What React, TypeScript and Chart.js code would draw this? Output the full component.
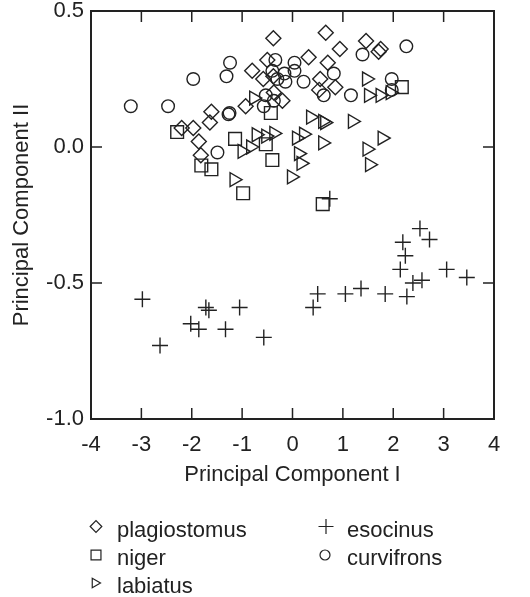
import React, { useEffect, useRef } from 'react';
import { Chart, registerables } from 'chart.js';
import { drawPoint } from 'chart.js/helpers';

Chart.register(...registerables);

// ---- data (Principal Component I, Principal Component II) ----
const plagiostomus: [number, number][] = [
  [-0.38, 0.40], [-0.80, 0.28], [-0.58, 0.25], [-0.50, 0.32], [-0.93, 0.15], [-0.20, 0.17],
  [-0.37, 0.20], [-0.38, 0.26], [-1.61, 0.13], [-1.64, 0.09], [-1.97, 0.07], [-2.20, 0.07],
  [-1.86, 0.02], [-1.82, -0.03], [0.66, 0.42], [0.32, 0.33], [0.94, 0.36], [1.46, 0.39],
  [1.71, 0.35], [1.75, 0.36], [0.70, 0.31], [0.55, 0.25], [0.85, 0.22], [0.53, 0.21],
];
const niger: [number, number][] = [
  [-2.29, 0.055], [-0.43, 0.125], [-1.14, 0.03], [-0.53, 0.01], [-0.40, -0.048],
  [-1.81, -0.068], [-1.61, -0.082], [-0.98, -0.17], [2.17, 0.22], [0.60, -0.21],
];
const labiatus: [number, number][] = [
  [-0.77, 0.18], [-0.72, 0.045], [-0.53, 0.04], [-0.37, 0.05], [-1.0, -0.016], [-0.83, 0.0],
  [-1.16, -0.12], [-0.02, -0.11], [1.47, 0.25], [1.51, 0.19], [1.74, 0.19], [1.94, 0.20],
  [0.36, 0.11], [0.60, 0.094], [0.64, 0.09], [1.19, 0.094], [0.08, 0.033], [0.22, 0.047],
  [0.60, 0.015], [0.12, -0.024], [0.17, -0.06], [1.78, 0.033], [1.48, -0.008], [1.53, -0.065],
];
const esocinus: [number, number][] = [
  [-2.98, -0.56], [-2.63, -0.73], [-2.02, -0.65], [-1.86, -0.67], [-1.72, -0.59], [-1.66, -0.60],
  [-1.33, -0.67], [-1.05, -0.59], [-0.57, -0.70], [0.41, -0.59], [0.50, -0.54], [1.05, -0.54],
  [1.36, -0.52], [1.84, -0.54], [2.27, -0.55], [2.39, -0.50], [2.57, -0.49], [3.06, -0.45],
  [3.46, -0.48], [2.14, -0.45], [2.24, -0.40], [2.19, -0.35], [2.53, -0.30], [2.72, -0.34],
  [0.74, -0.19],
];
const curvifrons: [number, number][] = [
  [-3.21, 0.15], [-2.47, 0.15], [-1.97, 0.25], [-1.31, 0.26], [-1.24, 0.31], [-1.27, 0.12],
  [-1.25, 0.125], [-1.49, -0.02], [-0.34, 0.32], [-0.40, 0.28], [-0.16, 0.27], [-0.14, 0.24],
  [-0.30, 0.25], [-0.53, 0.19], [-0.57, 0.15], [-0.37, 0.17], [0.04, 0.31], [0.04, 0.28],
  [0.22, 0.24], [0.82, 0.27], [0.62, 0.19], [1.16, 0.19], [1.39, 0.34], [2.26, 0.37],
  [1.97, 0.25], [1.97, 0.21],
];

const xTicks = [-4, -3, -2, -1, 0, 1, 2, 3, 4];
const yTicks = [-1.0, -0.5, 0.0, 0.5];
const xTitle = 'Principal Component I';
const yTitle = 'Principal Component II';

const INK = '#222';
const FONT = "'Liberation Sans', Arial, Helvetica, sans-serif";
const LW = 1.4;

const series = [
  { label: 'plagiostomus', data: plagiostomus, style: 'rectRot', r: 7.5, rot: 0, lr: 5.8, lx: 96, ly: 526.5, tx: 117, ty: 537 },
  { label: 'niger', data: niger, style: 'rect', r: 9, rot: 0, lr: 7, lx: 96, ly: 555, tx: 117, ty: 565 },
  { label: 'labiatus', data: labiatus, style: 'triangle', r: 8, rot: 90, lr: 5.5, lx: 95, ly: 583, tx: 117, ty: 593 },
  { label: 'esocinus', data: esocinus, style: 'cross', r: 8, rot: 0, lr: 7.5, lx: 326, ly: 526.5, tx: 347, ty: 537 },
  { label: 'curvifrons', data: curvifrons, style: 'circle', r: 6.3, rot: 0, lr: 5, lx: 325, ly: 555, tx: 347, ty: 565 },
];

const framePlugin = {
  id: 'frameTicks',
  afterDatasetsDraw(chart: any) {
    const { ctx, chartArea: a, scales } = chart;
    const x = scales.x;
    const y = scales.y;
    const tl = 11;
    ctx.save();
    ctx.strokeStyle = INK;
    ctx.lineWidth = 1.5;
    ctx.beginPath();
    x.ticks.forEach((t: any) => {
      if (t.value <= x.min || t.value >= x.max) return;
      const px = x.getPixelForValue(t.value);
      ctx.moveTo(px, a.bottom);
      ctx.lineTo(px, a.bottom - tl);
      ctx.moveTo(px, a.top);
      ctx.lineTo(px, a.top + tl);
    });
    y.ticks.forEach((t: any) => {
      if (t.value <= y.min || t.value >= y.max) return;
      const py = y.getPixelForValue(t.value);
      ctx.moveTo(a.left, py);
      ctx.lineTo(a.left + tl, py);
      ctx.moveTo(a.right, py);
      ctx.lineTo(a.right - tl, py);
    });
    ctx.stroke();
    ctx.lineWidth = 2;
    ctx.strokeRect(a.left, a.top, a.right - a.left, a.bottom - a.top);
    ctx.restore();
  },
};

const legendPlugin = {
  id: 'customLegend',
  afterDraw(chart: any) {
    const { ctx } = chart;
    ctx.save();
    ctx.strokeStyle = INK;
    ctx.fillStyle = 'rgba(0,0,0,0)';
    ctx.lineWidth = 1.2;
    series.forEach((s) => {
      drawPoint(ctx, { pointStyle: s.style as any, radius: s.lr, rotation: s.rot, borderWidth: 1.2 } as any, s.lx, s.ly);
    });
    ctx.fillStyle = INK;
    ctx.font = `22px ${FONT}`;
    ctx.textBaseline = 'alphabetic';
    ctx.textAlign = 'left';
    series.forEach((s) => {
      ctx.fillText(s.label, s.tx, s.ty);
    });
    ctx.restore();
  },
};

export default function App() {
  const ref = useRef<HTMLCanvasElement | null>(null);

  useEffect(() => {
    document.body.style.margin = '0';
    if (!ref.current) return;
    const chart = new Chart(ref.current, {
      type: 'scatter',
      data: {
        datasets: series.map((s) => ({
          label: s.label,
          data: s.data.map(([x, y]) => ({ x, y })),
          pointStyle: s.style as any,
          pointRadius: s.r,
          pointHoverRadius: s.r,
          pointRotation: s.rot,
          pointBorderWidth: LW,
          borderColor: INK,
          backgroundColor: 'rgba(0,0,0,0)',
          pointBackgroundColor: 'rgba(0,0,0,0)',
          pointBorderColor: INK,
        })),
      },
      options: {
        animation: false,
        responsive: false,
        events: [],
        layout: { padding: { top: 11, right: 36, bottom: 108, left: 0 } },
        plugins: {
          legend: { display: false },
          tooltip: { enabled: false },
        },
        scales: {
          x: {
            type: 'linear',
            position: 'bottom',
            min: xTicks[0],
            max: xTicks[xTicks.length - 1],
            afterBuildTicks: (s: any) => {
              s.ticks = xTicks.map((v) => ({ value: v }));
            },
            afterFit: (s: any) => {
              s.height = 70;
              s.paddingLeft = 0;
              s.paddingRight = 0;
              s.paddingTop = 0;
              s.paddingBottom = 0;
            },
            grid: { display: false, drawTicks: false },
            border: { display: false },
            ticks: {
              autoSkip: false,
              maxRotation: 0,
              padding: 13,
              color: INK,
              font: { family: FONT, size: 22 },
              callback: (v: any) => String(v),
            },
            title: {
              display: true,
              text: xTitle,
              color: INK,
              font: { family: FONT, size: 22 },
              padding: { top: 0, bottom: 1 },
            },
          },
          y: {
            type: 'linear',
            position: 'left',
            min: yTicks[0],
            max: yTicks[yTicks.length - 1],
            afterBuildTicks: (s: any) => {
              s.ticks = yTicks.map((v) => ({ value: v }));
            },
            afterFit: (s: any) => {
              s.width = 91;
              s.paddingLeft = 0;
              s.paddingRight = 0;
              s.paddingTop = 0;
              s.paddingBottom = 0;
            },
            grid: { display: false, drawTicks: false },
            border: { display: false },
            ticks: {
              autoSkip: false,
              padding: 7,
              color: INK,
              font: { family: FONT, size: 22 },
              callback: (v: any) => Number(v).toFixed(1),
            },
            title: {
              display: true,
              text: yTitle,
              color: INK,
              font: { family: FONT, size: 22 },
              padding: { top: 9, bottom: 0 },
            },
          },
        },
      },
      plugins: [framePlugin, legendPlugin],
    });
    return () => chart.destroy();
  }, []);

  return (
    <div style={{ position: 'absolute', left: 0, top: 0, width: 530, height: 597, background: '#fff' }}>
      <canvas ref={ref} width={530} height={597} style={{ display: 'block' }} />
    </div>
  );
}
